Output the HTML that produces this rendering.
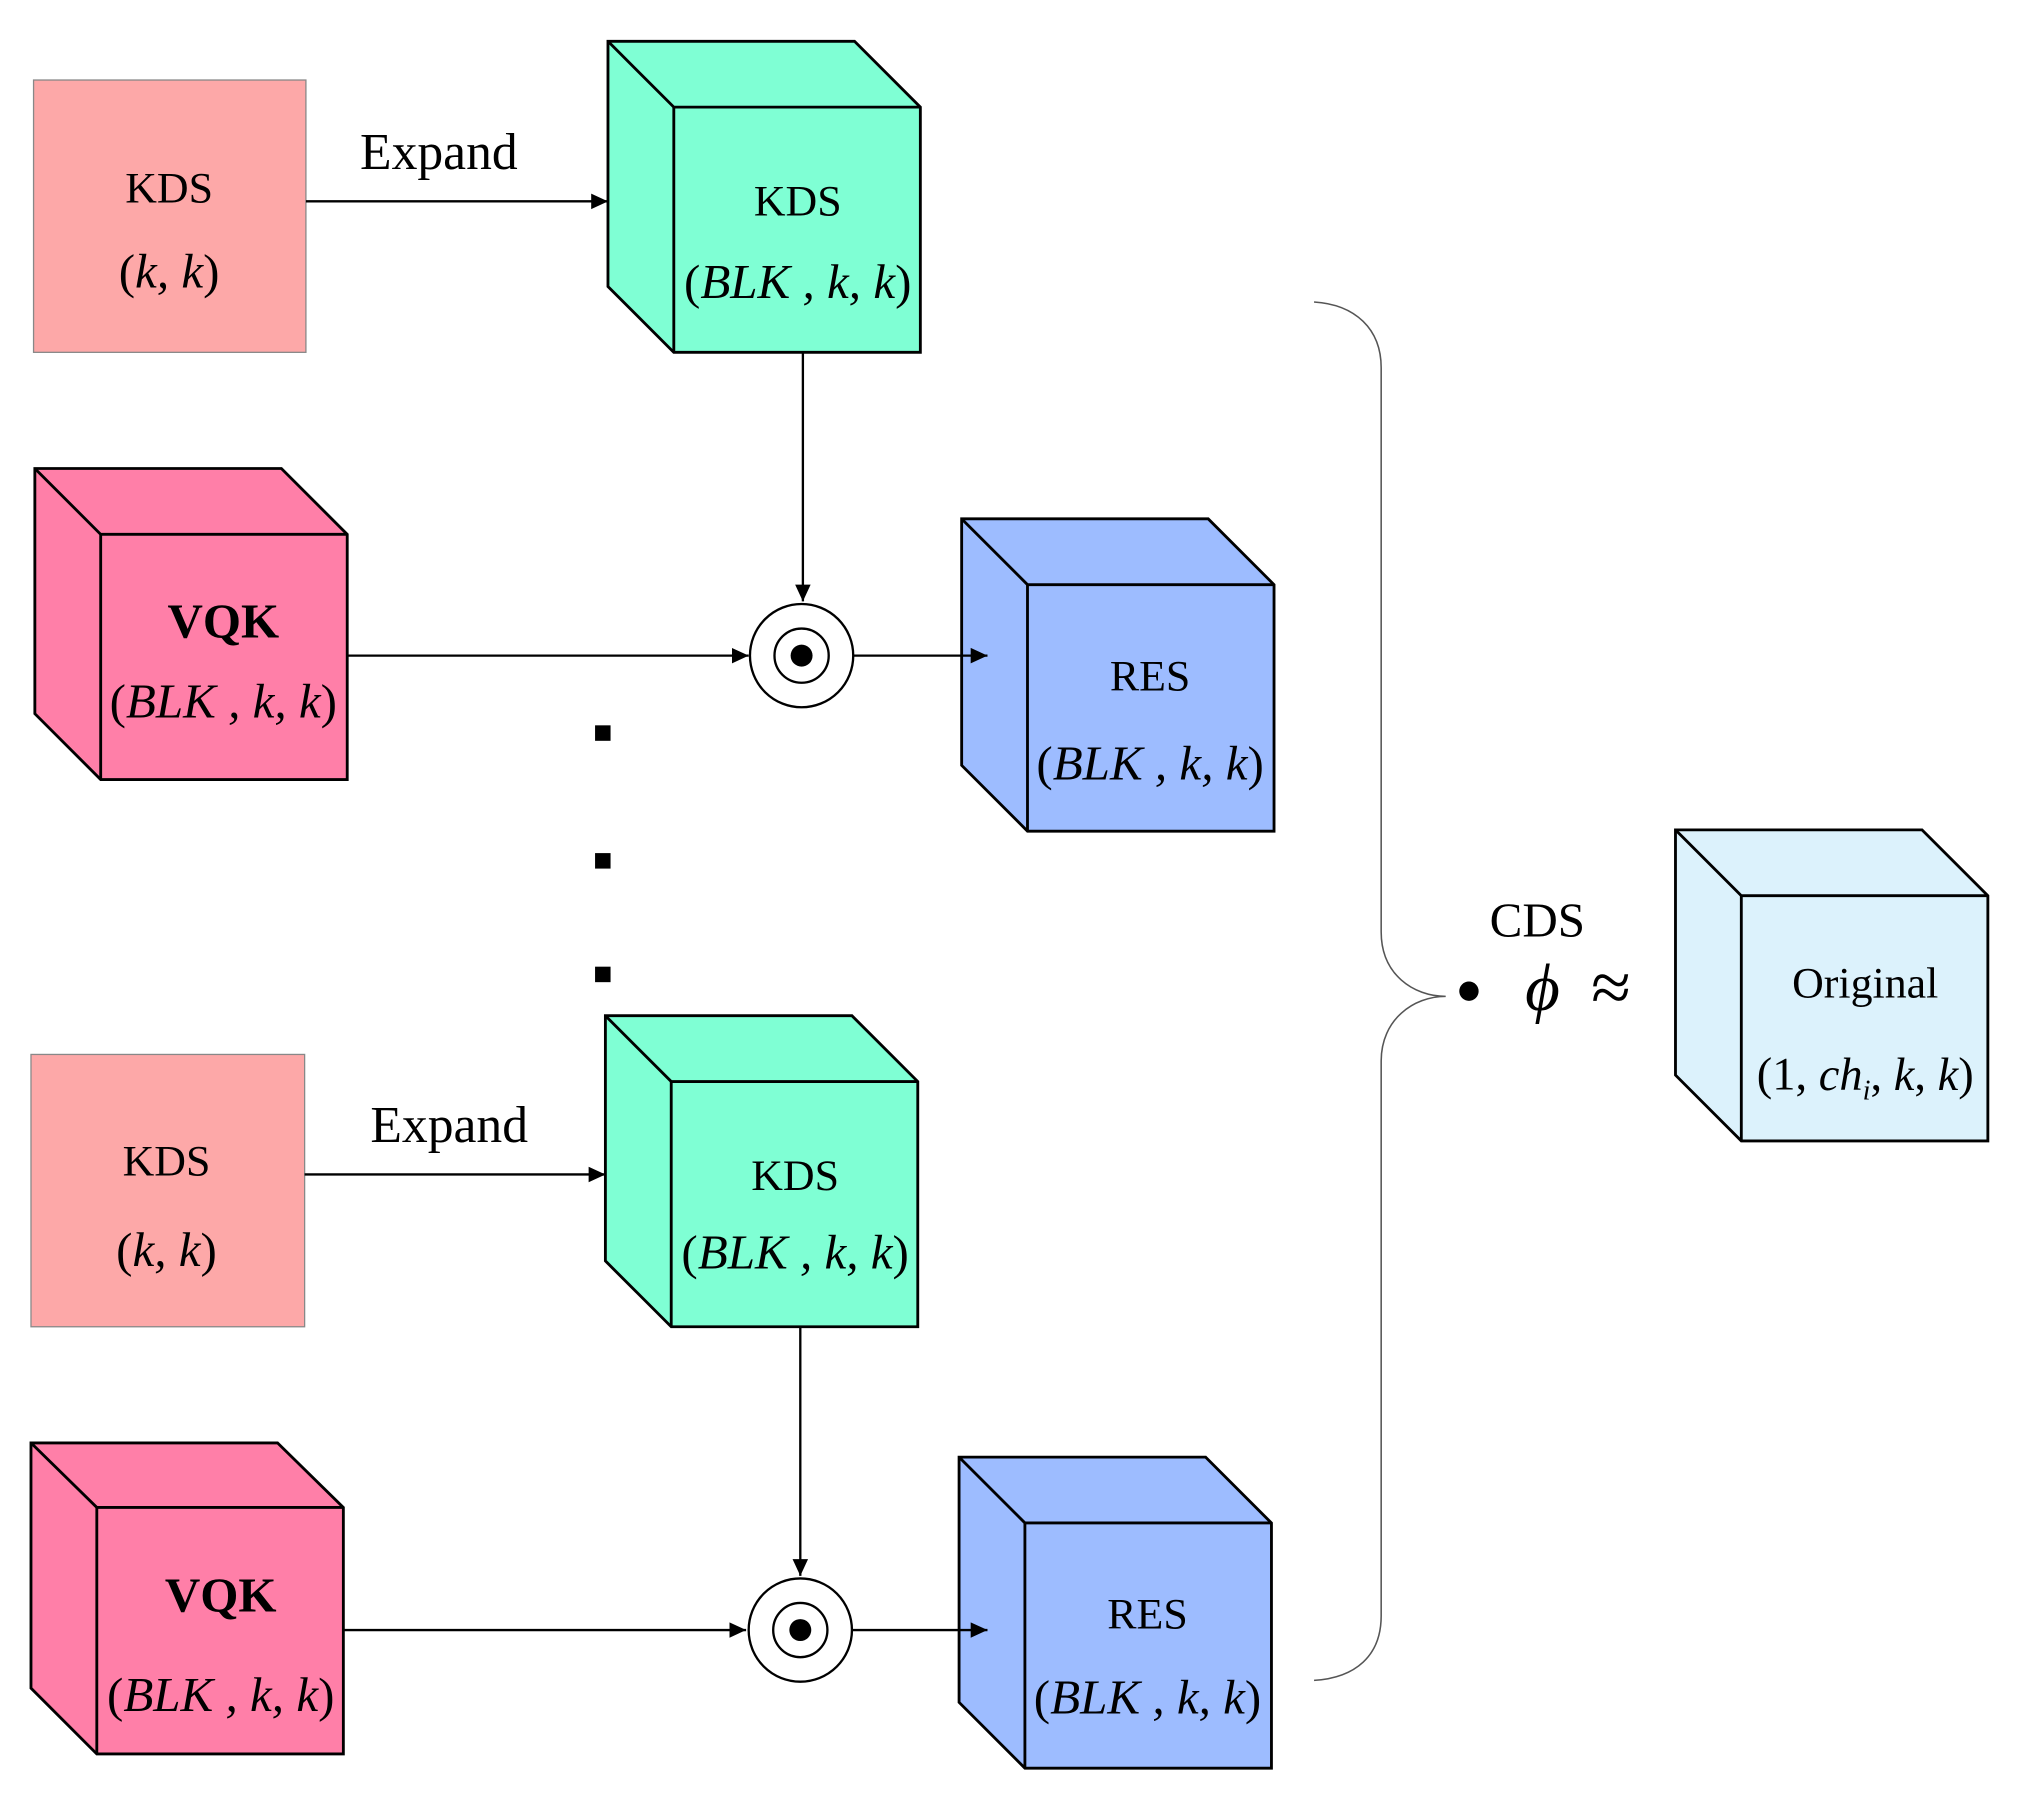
<!DOCTYPE html>
<html><head><meta charset="utf-8"><style>
html,body{margin:0;padding:0;background:#fff;}
svg{display:block;}
text{font-family:"Liberation Serif",serif;fill:#000;}
.l{font-size:34px;}
.m{font-size:38px;font-style:italic;}
.m .p{font-style:normal;}
</style></head><body>
<svg width="2024" height="1803" viewBox="0 0 1568 1397" preserveAspectRatio="none" xmlns="http://www.w3.org/2000/svg">
<defs>
<marker id="d" markerWidth="14" markerHeight="14" refX="13" refY="7" orient="auto" markerUnits="userSpaceOnUse"><path d="M0,1 L13,7 L0,13 z" fill="#000"/></marker>
</defs>
<g stroke="#000" stroke-width="2.2" stroke-linejoin="miter">
<rect x="26" y="62" width="211" height="211" fill="#FDA8A8" stroke="#888" stroke-width="1"/>
<polygon points="471,32 662,32 713,83 713,273 522,273 471,222" fill="#7FFFD4"/>
<polyline points="471,32 522,83 713,83" fill="none"/><line x1="522" y1="83" x2="522" y2="273"/>
<polygon points="27,363 218,363 269,414 269,604 78,604 27,553" fill="#FF7FA8"/>
<polyline points="27,363 78,414 269,414" fill="none"/><line x1="78" y1="414" x2="78" y2="604"/>
<polygon points="745,402 936,402 987,453 987,644 796,644 745,593" fill="#9DBCFF"/>
<polyline points="745,402 796,453 987,453" fill="none"/><line x1="796" y1="453" x2="796" y2="644"/>
<rect x="24" y="817" width="212" height="211" fill="#FDA8A8" stroke="#888" stroke-width="1"/>
<polygon points="469,787 660,787 711,838 711,1028 520,1028 469,977" fill="#7FFFD4"/>
<polyline points="469,787 520,838 711,838" fill="none"/><line x1="520" y1="838" x2="520" y2="1028"/>
<polygon points="24,1118 215,1118 266,1168 266,1359 75,1359 24,1308" fill="#FF7FA8"/>
<polyline points="24,1118 75,1168 266,1168" fill="none"/><line x1="75" y1="1168" x2="75" y2="1359"/>
<polygon points="743,1129 934,1129 985,1180 985,1370 794,1370 743,1319" fill="#9DBCFF"/>
<polyline points="743,1129 794,1180 985,1180" fill="none"/><line x1="794" y1="1180" x2="794" y2="1370"/>
<polygon points="1298,643 1489,643 1540,694 1540,884 1349,884 1298,833" fill="#DCF2FC"/>
<polyline points="1298,643 1349,694 1540,694" fill="none"/><line x1="1349" y1="694" x2="1349" y2="884"/>
</g>
<g stroke="#000" stroke-width="1.8" fill="none">
<line x1="237" y1="156" x2="471" y2="156" marker-end="url(#d)"/>
<line x1="622" y1="273" x2="622" y2="466" marker-end="url(#d)"/>
<line x1="269" y1="508" x2="580" y2="508" marker-end="url(#d)"/>
<line x1="661" y1="508" x2="765" y2="508" marker-end="url(#d)"/>
<line x1="236" y1="910" x2="469" y2="910" marker-end="url(#d)"/>
<line x1="620" y1="1028" x2="620" y2="1221" marker-end="url(#d)"/>
<line x1="266" y1="1263" x2="578" y2="1263" marker-end="url(#d)"/>
<line x1="660" y1="1263" x2="765" y2="1263" marker-end="url(#d)"/>
<circle cx="621" cy="508" r="40"/><circle cx="621" cy="508" r="21"/>
<circle cx="620" cy="1263" r="40"/><circle cx="620" cy="1263" r="21"/>
</g>
<circle cx="621" cy="508" r="8.5"/><circle cx="620" cy="1263" r="8.5"/>
<rect x="461" y="562" width="12" height="12"/><rect x="461" y="661" width="12" height="12"/><rect x="461" y="749" width="12" height="12"/>
<path d="M1018,234 C1050,236 1070,255 1070,285 L1070,722 C1070,755 1095,772 1120,772 C1095,772 1070,790 1070,822 L1070,1252 C1070,1283 1050,1300 1018,1302" fill="none" stroke="#555" stroke-width="1.2"/>
<circle cx="1138" cy="768" r="7.5"/>
<text x="131" y="146" class="l" text-anchor="middle" dominant-baseline="central">KDS</text>
<text x="131" y="210" class="m" text-anchor="middle" dominant-baseline="central"><tspan class="p">(</tspan>k, k<tspan class="p">)</tspan></text>
<text x="340" y="118" style="font-size:40px" text-anchor="middle" dominant-baseline="central">Expand</text>
<text x="618" y="156" class="l" text-anchor="middle" dominant-baseline="central">KDS</text>
<text x="618" y="218" class="m" text-anchor="middle" dominant-baseline="central"><tspan class="p">(</tspan>BLK , k, k<tspan class="p">)</tspan></text>
<text x="173" y="481" style="font-size:38px;font-weight:bold" text-anchor="middle" dominant-baseline="central">VQK</text>
<text x="173" y="543" class="m" text-anchor="middle" dominant-baseline="central"><tspan class="p">(</tspan>BLK , k, k<tspan class="p">)</tspan></text>
<text x="891" y="524" class="l" text-anchor="middle" dominant-baseline="central">RES</text>
<text x="891" y="591" class="m" text-anchor="middle" dominant-baseline="central"><tspan class="p">(</tspan>BLK , k, k<tspan class="p">)</tspan></text>
<text x="129" y="900" class="l" text-anchor="middle" dominant-baseline="central">KDS</text>
<text x="129" y="968" class="m" text-anchor="middle" dominant-baseline="central"><tspan class="p">(</tspan>k, k<tspan class="p">)</tspan></text>
<text x="348" y="872" style="font-size:40px" text-anchor="middle" dominant-baseline="central">Expand</text>
<text x="616" y="911" class="l" text-anchor="middle" dominant-baseline="central">KDS</text>
<text x="616" y="970" class="m" text-anchor="middle" dominant-baseline="central"><tspan class="p">(</tspan>BLK , k, k<tspan class="p">)</tspan></text>
<text x="171" y="1236" style="font-size:38px;font-weight:bold" text-anchor="middle" dominant-baseline="central">VQK</text>
<text x="171" y="1313" class="m" text-anchor="middle" dominant-baseline="central"><tspan class="p">(</tspan>BLK , k, k<tspan class="p">)</tspan></text>
<text x="889" y="1251" class="l" text-anchor="middle" dominant-baseline="central">RES</text>
<text x="889" y="1315" class="m" text-anchor="middle" dominant-baseline="central"><tspan class="p">(</tspan>BLK , k, k<tspan class="p">)</tspan></text>
<text x="1191" y="713" style="font-size:38px" text-anchor="middle" dominant-baseline="central">CDS</text>
<text x="1195" y="765" style="font-size:52px;font-style:italic" text-anchor="middle" dominant-baseline="central">ϕ</text>
<text x="1248" y="765" style="font-size:56px" text-anchor="middle" dominant-baseline="central">≈</text>
<text x="1445" y="762" class="l" text-anchor="middle" dominant-baseline="central">Original</text>
<text x="1445" y="833" style="font-size:36px" text-anchor="middle" dominant-baseline="central">(1, <tspan font-style="italic">ch</tspan><tspan font-style="italic" font-size="22" dy="12">i</tspan><tspan dy="-12">, </tspan><tspan font-style="italic">k</tspan>, <tspan font-style="italic">k</tspan>)</text>
</svg>
</body></html>
